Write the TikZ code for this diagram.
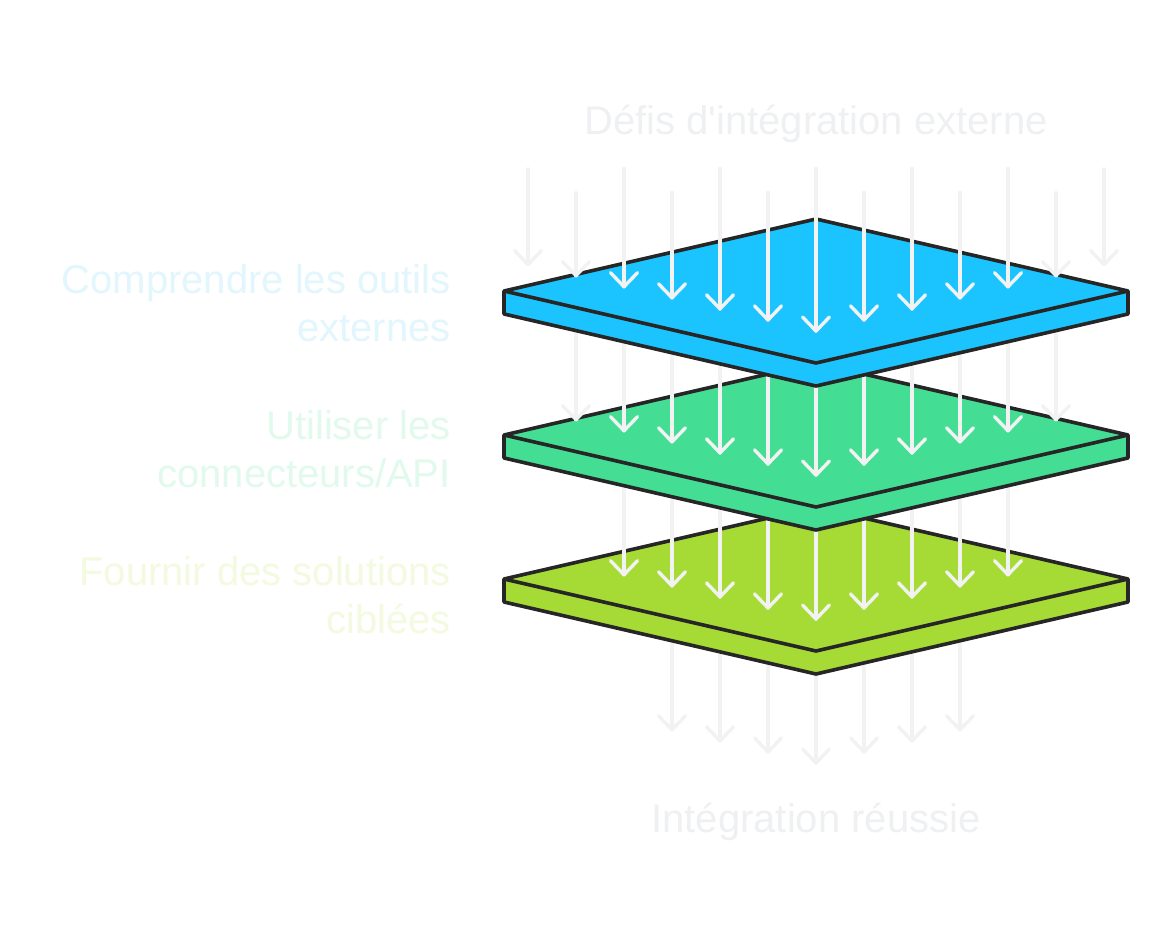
\documentclass[tikz,border=0pt]{standalone}
\usepackage{fontspec}
\setmainfont{Liberation Sans}
\definecolor{edgec}{RGB}{38,38,38}
\definecolor{arrowc}{RGB}{242,242,242}
\definecolor{plateblue}{RGB}{27,196,254}
\definecolor{plategreen}{RGB}{67,222,148}
\definecolor{platelime}{RGB}{166,218,52}
\definecolor{titletxt}{RGB}{238,240,242}
\definecolor{bluetxt}{RGB}{226,246,254}
\definecolor{greentxt}{RGB}{225,250,237}
\definecolor{limetxt}{RGB}{243,250,224}
\newcommand\layerarrows[2]{%
  \foreach \x in {#2} {
    \pgfmathsetmacro\tipy{331+#1-abs(\x-816)/312*72}
    \pgfmathsetmacro\starty{mod(int((\x-528)/48),2)==0 ? 169 : 193}
    \draw[flowarrow] (\x,\starty) -- (\x,\tipy);
    \draw[flowarrow] (\x-13.5,\tipy-14) -- (\x,\tipy) -- (\x+13.5,\tipy-14);
  }}
\newcommand\drawplate[2]{%
  \filldraw[platestyle, fill=#2] (816,219+#1) -- (1128,291+#1) -- (1128,314+#1) -- (816,386+#1) -- (504,314+#1) -- (504,291+#1) -- cycle;
  \draw[platestyle] (504,291+#1) -- (816,363+#1) -- (1128,291+#1);
}
\begin{document}
\begin{tikzpicture}[x=1pt,y=-1pt,
  platestyle/.style={draw=edgec, line width=3.6pt, line join=round},
  flowarrow/.style={draw=arrowc, line width=3.4pt, line cap=round, line join=round},
  lbl/.style={inner sep=0pt, align=right, anchor=base east, font=\fontsize{40}{48}\selectfont},
  ttl/.style={inner sep=0pt, anchor=base, text=titletxt, font=\fontsize{40}{48}\selectfont}]
\useasboundingbox (0,0) rectangle (1176,939);
\fill[white] (0,0) rectangle (1176,939);
% layer below the last plate
\layerarrows{432}{672,720,768,816,864,912,960}
\drawplate{288}{platelime}
\layerarrows{288}{624,672,720,768,816,864,912,960,1008}
\drawplate{144}{plategreen}
\layerarrows{144}{576,624,672,720,768,816,864,912,960,1008,1056}
\drawplate{0}{plateblue}
\layerarrows{0}{528,576,624,672,720,768,816,864,912,960,1008,1056,1104}
% texts
\node[ttl] (title) at (816,135) {Défis d\textquotesingle intégration externe};
\node[ttl] (result) at (816,832) {Intégration réussie};
\node[lbl, text=bluetxt] (lab1) at (451,341) {Comprendre les outils\\externes};
\node[lbl, text=greentxt] (lab2) at (451,487) {Utiliser les\\connecteurs/API};
\node[lbl, text=limetxt] (lab3) at (451,633) {Fournir des solutions\\ciblées};
\end{tikzpicture}
\end{document}
